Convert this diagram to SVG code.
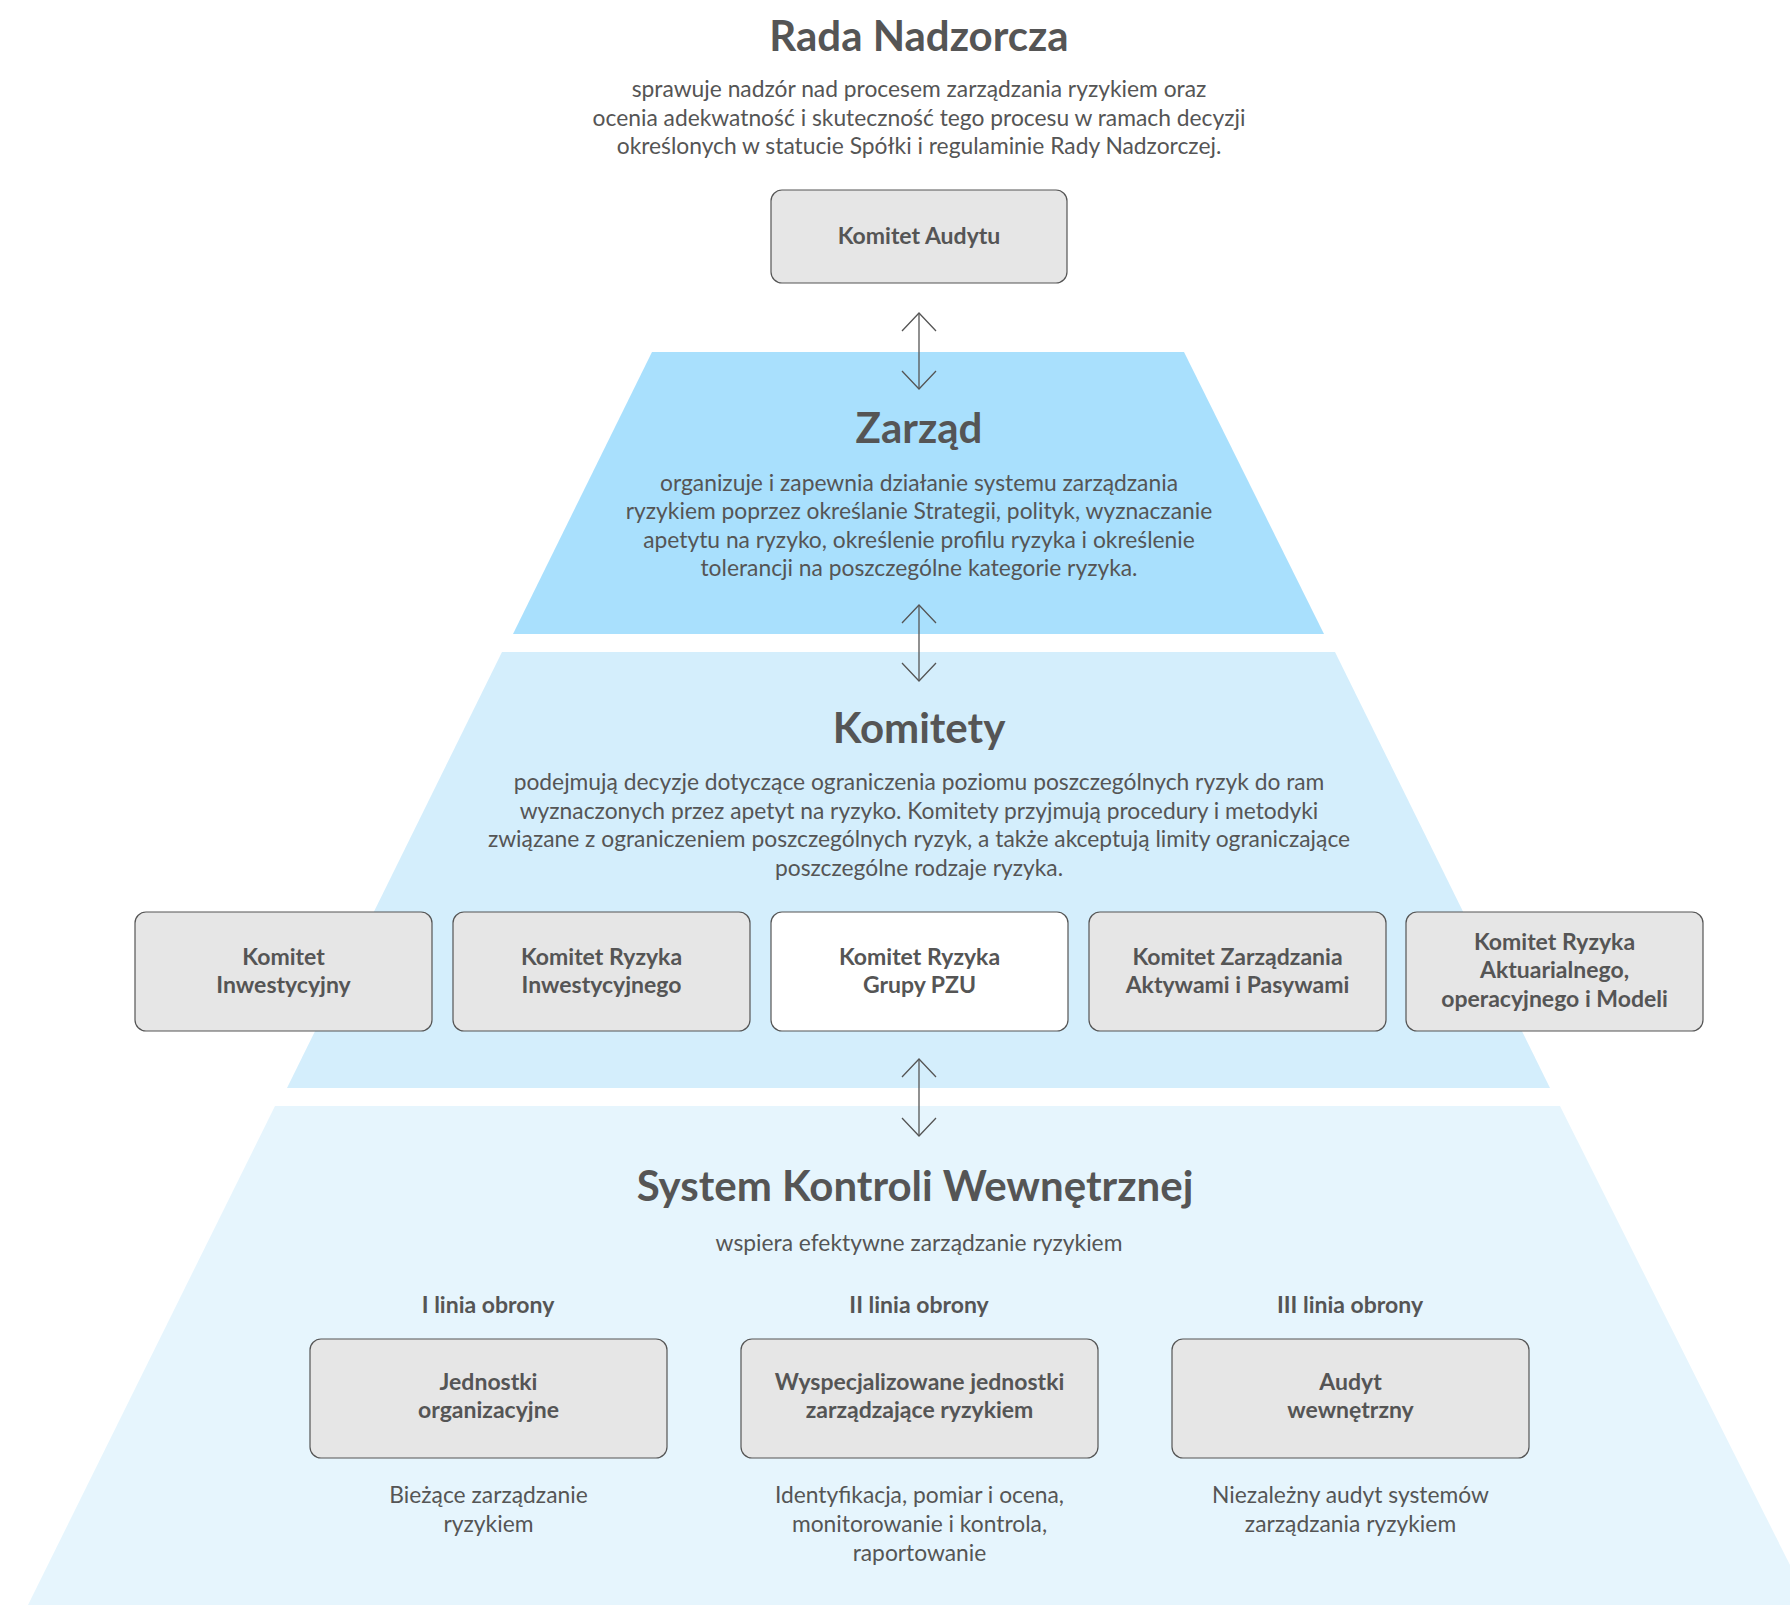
<svg xmlns="http://www.w3.org/2000/svg" width="1790" height="1605" viewBox="0 0 1790 1605">
<style>
text{font-family:Lato,"Noto Sans","Liberation Sans",sans-serif;fill:#555;text-anchor:middle}
.h{font-size:42px;font-weight:700}
.d{font-size:22.8px}
.b{font-size:23px;font-weight:700}
.box{fill:#e6e6e6;stroke:#555;stroke-width:1.2}
.wbox{fill:#fff;stroke:#555;stroke-width:1.2}
.con{stroke:#555;stroke-width:1.3;fill:none}
</style>
<defs>
<marker id="ah" viewBox="0 0 40 40" markerWidth="40" markerHeight="40" refX="20" refY="20" orient="auto-start-reverse" markerUnits="userSpaceOnUse">
<path d="M2,3 L20,20 L2,37" fill="none" stroke="#555" stroke-width="1.3"/>
</marker>
</defs>
<rect width="1790" height="1605" fill="#fff"/>

<g id="layer-system">
<polygon points="275,1106 1560,1106 1810,1605 28,1605" fill="#e6f5fd"/>
</g>
<g id="layer-komitety">
<polygon points="502,652 1335,652 1550,1088 287,1088" fill="#d4eefc"/>
</g>
<g id="layer-zarzad">
<polygon points="652,352 1184,352 1324,634 513,634" fill="#a9e0fd"/>
</g>

<g id="rada">
<text class="h" x="919" y="51">Rada Nadzorcza</text>
<text class="d" x="919" y="97">sprawuje nadzór nad procesem zarządzania ryzykiem oraz</text>
<text class="d" x="919" y="126">ocenia adekwatność i skuteczność tego procesu w ramach decyzji</text>
<text class="d" x="919" y="154">określonych w statucie Spółki i regulaminie Rady Nadzorczej.</text>
</g>

<g id="komitet-audytu">
<rect class="box" x="771" y="190" width="296" height="93" rx="11"/>
<text class="b" x="919" y="244">Komitet Audytu</text>
</g>

<g id="zarzad">
<text class="h" x="919" y="443">Zarząd</text>
<text class="d" x="919" y="491">organizuje i zapewnia działanie systemu zarządzania</text>
<text class="d" x="919" y="519">ryzykiem poprzez określanie Strategii, polityk, wyznaczanie</text>
<text class="d" x="919" y="548">apetytu na ryzyko, określenie profilu ryzyka i określenie</text>
<text class="d" x="919" y="576">tolerancji na poszczególne kategorie ryzyka.</text>
</g>

<g id="komitety">
<text class="h" x="919" y="743">Komitety</text>
<text class="d" x="919" y="790">podejmują decyzje dotyczące ograniczenia poziomu poszczególnych ryzyk do ram</text>
<text class="d" x="919" y="819">wyznaczonych przez apetyt na ryzyko. Komitety przyjmują procedury i metodyki</text>
<text class="d" x="919" y="847">związane z ograniczeniem poszczególnych ryzyk, a także akceptują limity ograniczające</text>
<text class="d" x="919" y="876">poszczególne rodzaje ryzyka.</text>
</g>

<g id="komitet-inwestycyjny">
<rect class="box" x="135" y="912" width="297" height="119" rx="11"/>
<text class="b" x="283.5" y="965">Komitet</text>
<text class="b" x="283.5" y="993">Inwestycyjny</text>
</g>
<g id="komitet-ryzyka-inwestycyjnego">
<rect class="box" x="453" y="912" width="297" height="119" rx="11"/>
<text class="b" x="601.5" y="965">Komitet Ryzyka</text>
<text class="b" x="601.5" y="993">Inwestycyjnego</text>
</g>
<g id="komitet-ryzyka-grupy-pzu">
<rect class="wbox" x="771" y="912" width="297" height="119" rx="11"/>
<text class="b" x="919.5" y="965">Komitet Ryzyka</text>
<text class="b" x="919.5" y="993">Grupy PZU</text>
</g>
<g id="komitet-zarzadzania-aktywami">
<rect class="box" x="1089" y="912" width="297" height="119" rx="11"/>
<text class="b" x="1237.5" y="965">Komitet Zarządzania</text>
<text class="b" x="1237.5" y="993">Aktywami i Pasywami</text>
</g>
<g id="komitet-ryzyka-aktuarialnego">
<rect class="box" x="1406" y="912" width="297" height="119" rx="11"/>
<text class="b" x="1554.5" y="950">Komitet Ryzyka</text>
<text class="b" x="1554.5" y="978">Aktuarialnego,</text>
<text class="b" x="1554.5" y="1007">operacyjnego i Modeli</text>
</g>

<g id="system">
<text class="h" x="915" y="1201">System Kontroli Wewnętrznej</text>
<text class="d" x="919" y="1251">wspiera efektywne zarządzanie ryzykiem</text>
<text class="b" x="488" y="1313">I linia obrony</text>
<text class="b" x="919" y="1313">II linia obrony</text>
<text class="b" x="1350" y="1313">III linia obrony</text>
</g>

<g id="jednostki-organizacyjne">
<rect class="box" x="310" y="1339" width="357" height="119" rx="11"/>
<text class="b" x="488.5" y="1390">Jednostki</text>
<text class="b" x="488.5" y="1418">organizacyjne</text>
<text class="d" x="488.5" y="1503">Bieżące zarządzanie</text>
<text class="d" x="488.5" y="1532">ryzykiem</text>
</g>
<g id="wyspecjalizowane-jednostki">
<rect class="box" x="741" y="1339" width="357" height="119" rx="11"/>
<text class="b" x="919.5" y="1390">Wyspecjalizowane jednostki</text>
<text class="b" x="919.5" y="1418">zarządzające ryzykiem</text>
<text class="d" x="919.5" y="1503">Identyfikacja, pomiar i ocena,</text>
<text class="d" x="919.5" y="1532">monitorowanie i kontrola,</text>
<text class="d" x="919.5" y="1561">raportowanie</text>
</g>
<g id="audyt-wewnetrzny">
<rect class="box" x="1172" y="1339" width="357" height="119" rx="11"/>
<text class="b" x="1350.5" y="1390">Audyt</text>
<text class="b" x="1350.5" y="1418">wewnętrzny</text>
<text class="d" x="1350.5" y="1503">Niezależny audyt systemów</text>
<text class="d" x="1350.5" y="1532">zarządzania ryzykiem</text>
</g>

<g id="connectors">
<path class="con" d="M919,313 V389" marker-start="url(#ah)" marker-end="url(#ah)"/>
<path class="con" d="M919,605 V681" marker-start="url(#ah)" marker-end="url(#ah)"/>
<path class="con" d="M919,1059 V1136" marker-start="url(#ah)" marker-end="url(#ah)"/>
</g>
</svg>
